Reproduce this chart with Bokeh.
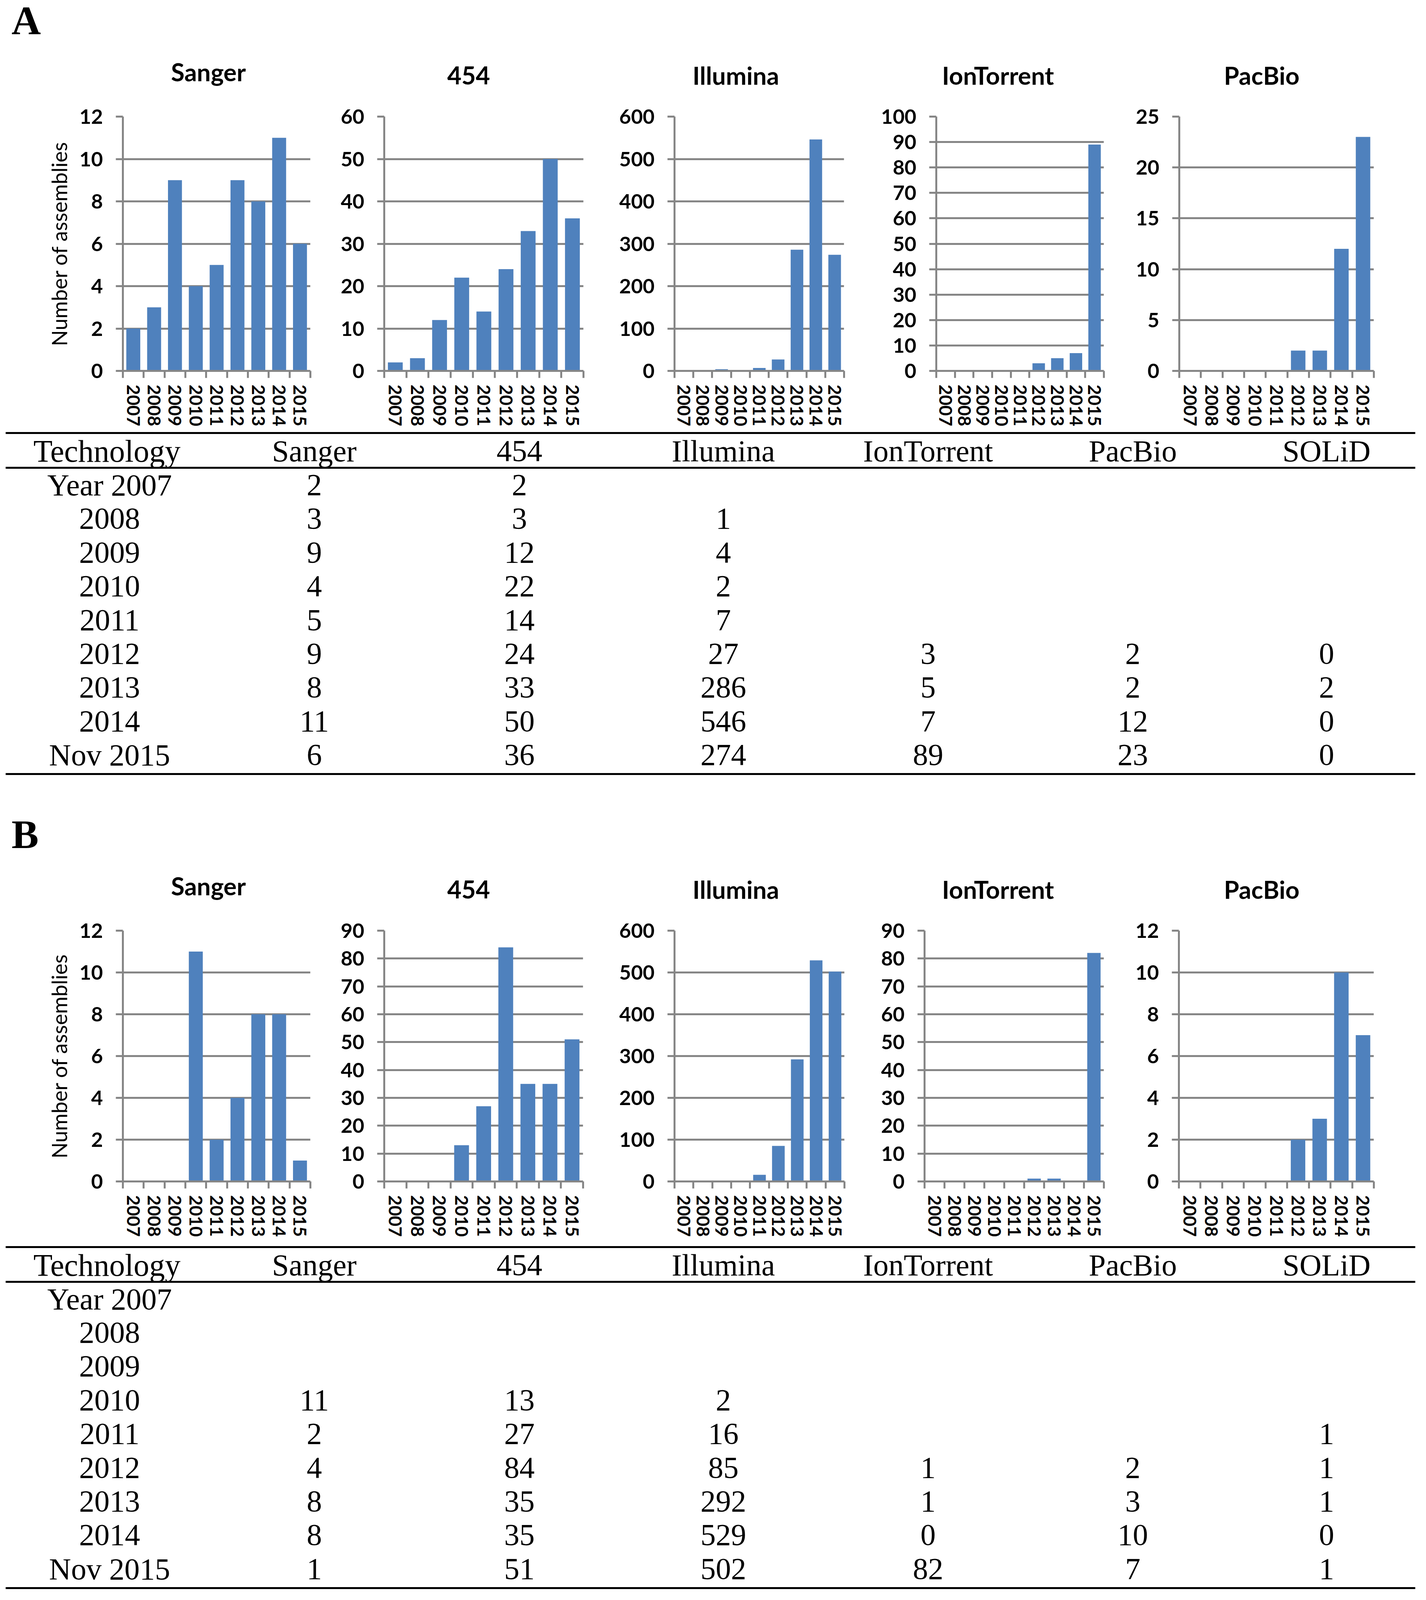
from bokeh.plotting import figure
from bokeh.models import Range1d, FixedTicker, ColumnDataSource
from bokeh.layouts import column, row
from bokeh.embed import file_html
from bokeh.resources import INLINE
from bokeh.core.properties import value

# ---------------- data ----------------
years = ["2007", "2008", "2009", "2010", "2011", "2012", "2013", "2014", "2015"]
row_labels = ["Year 2007", "2008", "2009", "2010", "2011", "2012", "2013", "2014", "Nov 2015"]
technologies = ["Sanger", "454", "Illumina", "IonTorrent", "PacBio", "SOLiD"]
chart_names = ["Sanger", "454", "Illumina", "IonTorrent", "PacBio"]

# Panel A
sanger_a = [2, 3, 9, 4, 5, 9, 8, 11, 6]
f454_a = [2, 3, 12, 22, 14, 24, 33, 50, 36]
illumina_a = [None, 1, 4, 2, 7, 27, 286, 546, 274]
iontorrent_a = [None, None, None, None, None, 3, 5, 7, 89]
pacbio_a = [None, None, None, None, None, 2, 2, 12, 23]
solid_a = [None, None, None, None, None, 0, 2, 0, 0]

# Panel B
sanger_b = [None, None, None, 11, 2, 4, 8, 8, 1]
f454_b = [None, None, None, 13, 27, 84, 35, 35, 51]
illumina_b = [None, None, None, 2, 16, 85, 292, 529, 502]
iontorrent_b = [None, None, None, None, None, 1, 1, 0, 82]
pacbio_b = [None, None, None, None, None, 2, 3, 10, 7]
solid_b = [None, None, None, None, 1, 1, 1, 0, 1]

# y-axis maxima and steps of the charts
yaxis_a = [(12, 2), (60, 10), (600, 100), (100, 10), (25, 5)]
yaxis_b = [(12, 2), (90, 10), (600, 100), (90, 10), (12, 2)]

# ---------------- layout constants (page px) ----------------
BAR = "#4F81BD"
GRID = "#868686"
FIG_X = [8, 870, 1590, 2260, 2900, 3642]
FRAMES_A = [(322, 802), (991, 1501), (1718, 2168), (2393, 2833), (3026, 3524)]
FRAMES_B = [(322, 802), (991, 1500), (1718, 2169), (2364, 2833), (3025, 3524)]
TITLE_X = [541, 1207, 1891, 2562, 3237]
TITLE_BASE = [247, 257, 257, 257, 257]
DY = 2437
SHIFT = 0.33
VS = 0.855  # vertical compression (diagnostic)


def v(y):
    return int(round(8 + (y - 8) * VS))


def canvas(y0, y1):
    p = figure(width=3634, height=v(y1) - v(y0), output_backend="svg", toolbar_location=None,
               x_range=Range1d(8, 3642), y_range=Range1d(v(y1), v(y0)), min_border=0,
               x_axis_location=None, y_axis_location=None, title=None)
    p.grid.visible = False
    p.outline_line_color = None
    return p


def make_header(y0, y1, letter, dy):
    p = canvas(y0, y1)
    p.text(x=[37], y=[v(108 + dy) - SHIFT * 104], text=[letter], text_font=value("Liberation Serif"),
           text_font_style="bold", text_font_size="104px", text_align="left",
           text_baseline="alphabetic", text_color="black")
    p.text(x=TITLE_X, y=[v(b + dy) - SHIFT * 63 for b in TITLE_BASE], text=chart_names,
           text_font=value("Lato"), text_font_style="bold", text_font_size="63px",
           text_align="center", text_baseline="alphabetic", text_color="black")
    return p


def make_chart(k, vals, ymax, step, fy0, fy1, ft, fb, frames):
    fx0, fx1 = FIG_X[k], FIG_X[k + 1]
    fl, fr = frames[k]
    p = figure(width=fx1 - fx0, height=v(fy1) - v(fy0), output_backend="svg", toolbar_location=None,
               x_range=Range1d(-0.5, 8.5), y_range=Range1d(0, ymax),
               min_border_left=fl - fx0, min_border_right=fx1 - fr,
               min_border_top=v(ft) - v(fy0), min_border_bottom=v(fy1) - v(fb), title=None)
    p.outline_line_color = None
    src = ColumnDataSource(dict(x=list(range(len(years))), top=[x if x is not None else 0 for x in vals]))
    p.vbar(x="x", top="top", width=0.67, source=src, fill_color=BAR, line_color=None)

    xt = FixedTicker(ticks=list(range(len(years))), minor_ticks=[i - 0.5 for i in range(len(years) + 1)])
    xa = p.xaxis[0]
    xa.ticker = xt
    xa.major_label_overrides = {i: y for i, y in enumerate(years)}
    xa.major_label_orientation = "vertical"
    xa.major_tick_line_color = None
    xa.major_tick_out = 18
    xa.major_tick_in = 0
    xa.minor_tick_line_color = GRID
    xa.minor_tick_line_width = 5
    xa.minor_tick_out = 18
    xa.minor_tick_in = 0
    xa.axis_line_color = GRID
    xa.axis_line_width = 5
    xa.major_label_standoff = 17
    xa.major_label_text_font = "Lato"
    xa.major_label_text_font_style = "bold"
    xa.major_label_text_font_size = "46px"
    xa.major_label_text_color = "black"

    yt = FixedTicker(ticks=list(range(0, ymax + 1, step)), minor_ticks=[])
    ya = p.yaxis[0]
    ya.ticker = yt
    ya.major_tick_out = 18
    ya.major_tick_in = 0
    ya.major_tick_line_color = GRID
    ya.major_tick_line_width = 5
    ya.minor_tick_line_color = None
    ya.axis_line_color = GRID
    ya.axis_line_width = 5
    ya.major_label_standoff = 33
    ya.major_label_text_font = "Lato"
    ya.major_label_text_font_style = "bold"
    ya.major_label_text_font_size = "52px"
    ya.major_label_text_color = "black"
    if k == 0:
        ya.axis_label = "Number of assemblies"
        ya.axis_label_text_font = "Lato"
        ya.axis_label_text_font_style = "normal"
        ya.axis_label_text_font_size = "54px"
        ya.axis_label_text_color = "black"
        ya.axis_label_standoff = 16

    p.xgrid.visible = False
    p.ygrid.ticker = yt
    p.ygrid.grid_line_color = GRID
    p.ygrid.grid_line_width = 5
    return p


def make_table(y0, y1, columns, dy):
    p = canvas(y0, y1)
    lines_y = [v(1304 + dy), v(1408 + dy), v(2325 + dy)]
    p.segment(x0=[22] * 3, x1=[3630] * 3, y0=lines_y, y1=lines_y, line_color="black", line_width=5)
    col_x = [812, 1337, 1859, 2383, 2907, 3403]
    font = value("Liberation Serif")
    sh = SHIFT * 78
    p.text(x=[93], y=[v(1388 + dy) - sh], text=["Technology"], text_font=font, text_font_size="80px",
           text_align="left", text_baseline="alphabetic", text_color="black")
    p.text(x=col_x, y=[v(1388 + dy) - sh] * len(technologies), text=technologies, text_font=font,
           text_font_size="78px", text_align="center", text_baseline="alphabetic", text_color="black")
    base = [v(1490 + 101 * i + dy) - sh for i in range(len(row_labels))]
    p.text(x=[288] * len(row_labels), y=base, text=row_labels, text_font=font, text_font_size="78px",
           text_align="center", text_baseline="alphabetic", text_color="black")
    xs, ys, ts = [], [], []
    for j, col in enumerate(columns):
        for i, val in enumerate(col):
            if val is not None:
                xs.append(col_x[j]); ys.append(base[i]); ts.append(str(val))
    p.text(x=xs, y=ys, text=ts, text_font=font, text_font_size="78px",
           text_align="center", text_baseline="alphabetic", text_color="black")
    return p


series_a = [sanger_a, f454_a, illumina_a, iontorrent_a, pacbio_a]
series_b = [sanger_b, f454_b, illumina_b, iontorrent_b, pacbio_b]

head_a = make_header(8, 300, "A", 0)
charts_a = [make_chart(k, series_a[k], yaxis_a[k][0], yaxis_a[k][1], 300, 1288, 357, 1122, FRAMES_A)
            for k in range(5)]
table_a = make_table(1288, 2400, [sanger_a, f454_a, illumina_a, iontorrent_a, pacbio_a, solid_a], 0)

head_b = make_header(2400, 2737, "B", DY)
charts_b = [make_chart(k, series_b[k], yaxis_b[k][0], yaxis_b[k][1], 2737, 3715, 357 + DY, 1122 + DY, FRAMES_B)
            for k in range(5)]
table_b = make_table(3715, 4768, [sanger_b, f454_b, illumina_b, iontorrent_b, pacbio_b, solid_b], DY)

layout = column(head_a, row(*charts_a, spacing=0), table_a,
                head_b, row(*charts_b, spacing=0), table_b, spacing=0)

open("out.html", "w").write(file_html(layout, INLINE))
